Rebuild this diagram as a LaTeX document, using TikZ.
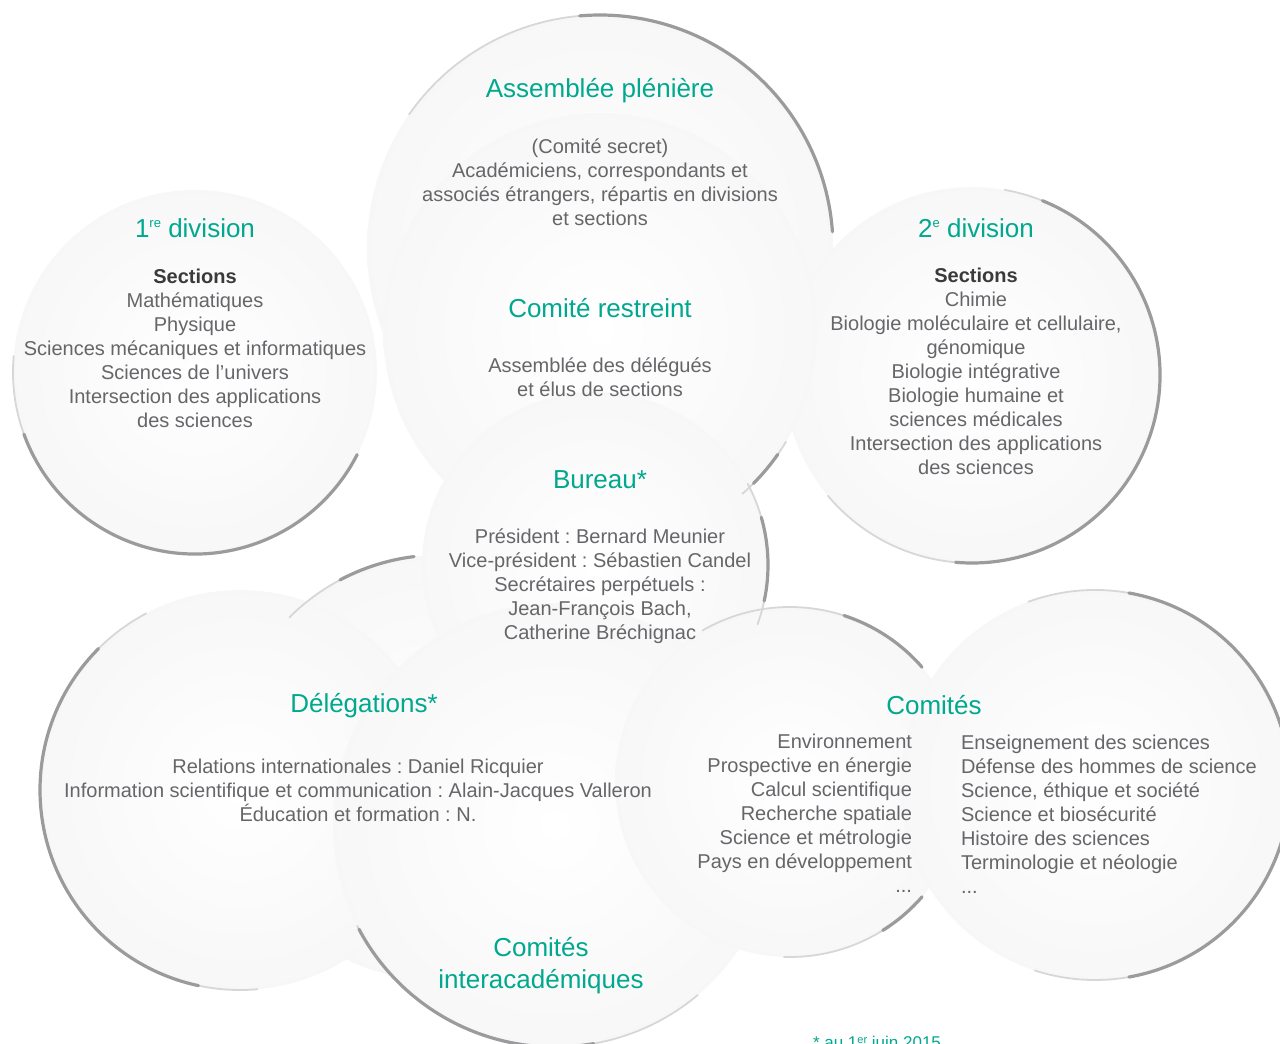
\documentclass[tikz,border=0pt]{standalone}
\usepackage{fontspec}
\setmainfont{Liberation Sans}
\frenchspacing

\definecolor{acgreen}{RGB}{0,168,142}
\definecolor{acgray}{RGB}{102,102,106}
\definecolor{acdark}{RGB}{58,58,60}
\definecolor{rimgray}{RGB}{155,155,157}

\newcommand{\sups}[1]{\raisebox{0.36em}{\fontsize{13}{13}\selectfont #1}}

\begin{document}
\begin{tikzpicture}[
  x=1pt, y=-1pt,
  every node/.style={inner sep=0pt, outer sep=0pt},
  disc/.style={circle, minimum size=#1, shade,
               inner color=white, outer color=black!3},
  rim/.style={draw=rimgray, line width=3.2pt, line cap=round},
  rimfaint/.style={draw=rimgray!40, line width=1.8pt, line cap=round},
  title/.style={text=acgreen, align=center, font=\fontsize{26}{32}\selectfont},
  body/.style={text=acgray, align=center, font=\fontsize{20}{24}\selectfont},
]
\useasboundingbox (0,0) rectangle (1280,1044);

% the cloud of discs
\node[disc=466pt] (ap) at (600,248) {};
\node[disc=364pt] (divA) at (195,372) {};
\node[disc=376pt] (divB) at (972,375) {};
\node[disc=434pt] (restreint) at (600,330) {};
\node[disc=426pt] (liaison) at (440,768) {};
\node[disc=346pt] (bureau) at (595,565) {};
\node[disc=400pt] (deleg) at (240,790) {};
\node[disc=444pt] (interac) at (555,825) {};
\node[disc=350pt] (comA) at (790,782) {};
\node[disc=390pt] (comB) at (1095,785) {};

% rims
\draw[rimfaint] (ap.145) arc[start angle=145, end angle=4, radius=233pt];
\draw[rim] (ap.95) arc[start angle=95, end angle=4, radius=233pt];
\draw[rimfaint] (divA.175) arc[start angle=175, end angle=333, radius=182pt];
\draw[rim] (divA.200) arc[start angle=200, end angle=333, radius=182pt];
\draw[rimfaint] (divB.80) arc[start angle=80, end angle=-140, radius=188pt];
\draw[rim] (divB.68) arc[start angle=68, end angle=-95, radius=188pt];
\draw[rimfaint] (restreint.-31) arc[start angle=-31, end angle=-49, radius=217pt];
\draw[rim] (restreint.-35) arc[start angle=-35, end angle=-45, radius=217pt];
\draw[rimfaint] (liaison.97) arc[start angle=97, end angle=135, radius=213pt];
\draw[rim] (liaison.97) arc[start angle=97, end angle=118, radius=213pt];
\draw[rimfaint] (bureau.28) arc[start angle=28, end angle=-20, radius=173pt];
\draw[rim] (bureau.16) arc[start angle=16, end angle=-12, radius=173pt];
\draw[rimfaint] (deleg.118) arc[start angle=118, end angle=275, radius=200pt];
\draw[rim] (deleg.135) arc[start angle=135, end angle=258, radius=200pt];
\draw[rimfaint] (interac.207) arc[start angle=207, end angle=310, radius=222pt];
\draw[rim] (interac.208) arc[start angle=208, end angle=280, radius=222pt];
\draw[rimfaint] (comA.120) arc[start angle=120, end angle=41, radius=175pt];
\draw[rim] (comA.72) arc[start angle=72, end angle=41, radius=175pt];
\draw[rimfaint] (comA.-41) arc[start angle=-41, end angle=-92, radius=175pt];
\draw[rim] (comA.-41) arc[start angle=-41, end angle=-58, radius=175pt];
\draw[rimfaint] (comB.110) arc[start angle=110, end angle=-108, radius=195pt];
\draw[rim] (comB.80) arc[start angle=80, end angle=-80, radius=195pt];

% labels
\node[title] (aptitle) at (600,91) {Assemblée plénière};
\node[body] (aptext) at (600,182) {(Comité secret)\\Académiciens, correspondants et\\
  associés étrangers, répartis en divisions\\et sections};

\node[title] (divAtitle) at (195,228) {1\sups{re} division};
\node[body] (divAtext) at (195,348) {{\bfseries\color{acdark}Sections}\\Mathématiques\\Physique\\
  Sciences mécaniques et informatiques\\Sciences de l’univers\\
  Intersection des applications\\des sciences};

\node[title] (divBtitle) at (976,228) {2\sups{e} division};
\node[body] (divBtext) at (976,371) {{\bfseries\color{acdark}Sections}\\Chimie\\
  Biologie moléculaire et cellulaire,\\génomique\\Biologie intégrative\\
  Biologie humaine et\\sciences médicales\\Intersection des applications\\des sciences};

\node[title] (restreinttitle) at (600,308) {Comité restreint};
\node[body] (restreinttext) at (600,377) {Assemblée des délégués\\et élus de sections};

\node[title] (bureautitle) at (600,480) {Bureau*};
\node[body] (bureautext) at (600,586) {Président : Bernard Meunier\\
  Vice-président : Sébastien Candel\\Secrétaires perpétuels :\\
  Jean-François Bach,\\Catherine Bréchignac};

\node[title] (delegtitle) at (364,706) {Délégations*};
\node[body] (delegtext) at (358,790) {Relations internationales : Daniel Ricquier\\
  Information scientifique et communication : Alain-Jacques Valleron\\
  Éducation et formation : N.};

\node[title] (comtitle) at (934,705) {Comités};
\node[body, align=right, anchor=east] (comleft) at (912,813) {Environnement\\
  Prospective en énergie\\Calcul scientifique\\Recherche spatiale\\
  Science et métrologie\\Pays en développement\\...};
\node[body, align=left, anchor=west] (comright) at (961,814) {Enseignement des sciences\\
  Défense des hommes de science\\Science, éthique et société\\
  Science et biosécurité\\Histoire des sciences\\Terminologie et néologie\\...};

\node[title] (interactitle) at (541,966) {Comités\\interacadémiques};

\node[text=acgreen, font=\fontsize{17}{20}\selectfont, anchor=base west]
  (note) at (813,1048) {* au 1{\fontsize{11}{11}\selectfont\raisebox{0.4em}{er}} juin 2015};
\end{tikzpicture}
\end{document}
